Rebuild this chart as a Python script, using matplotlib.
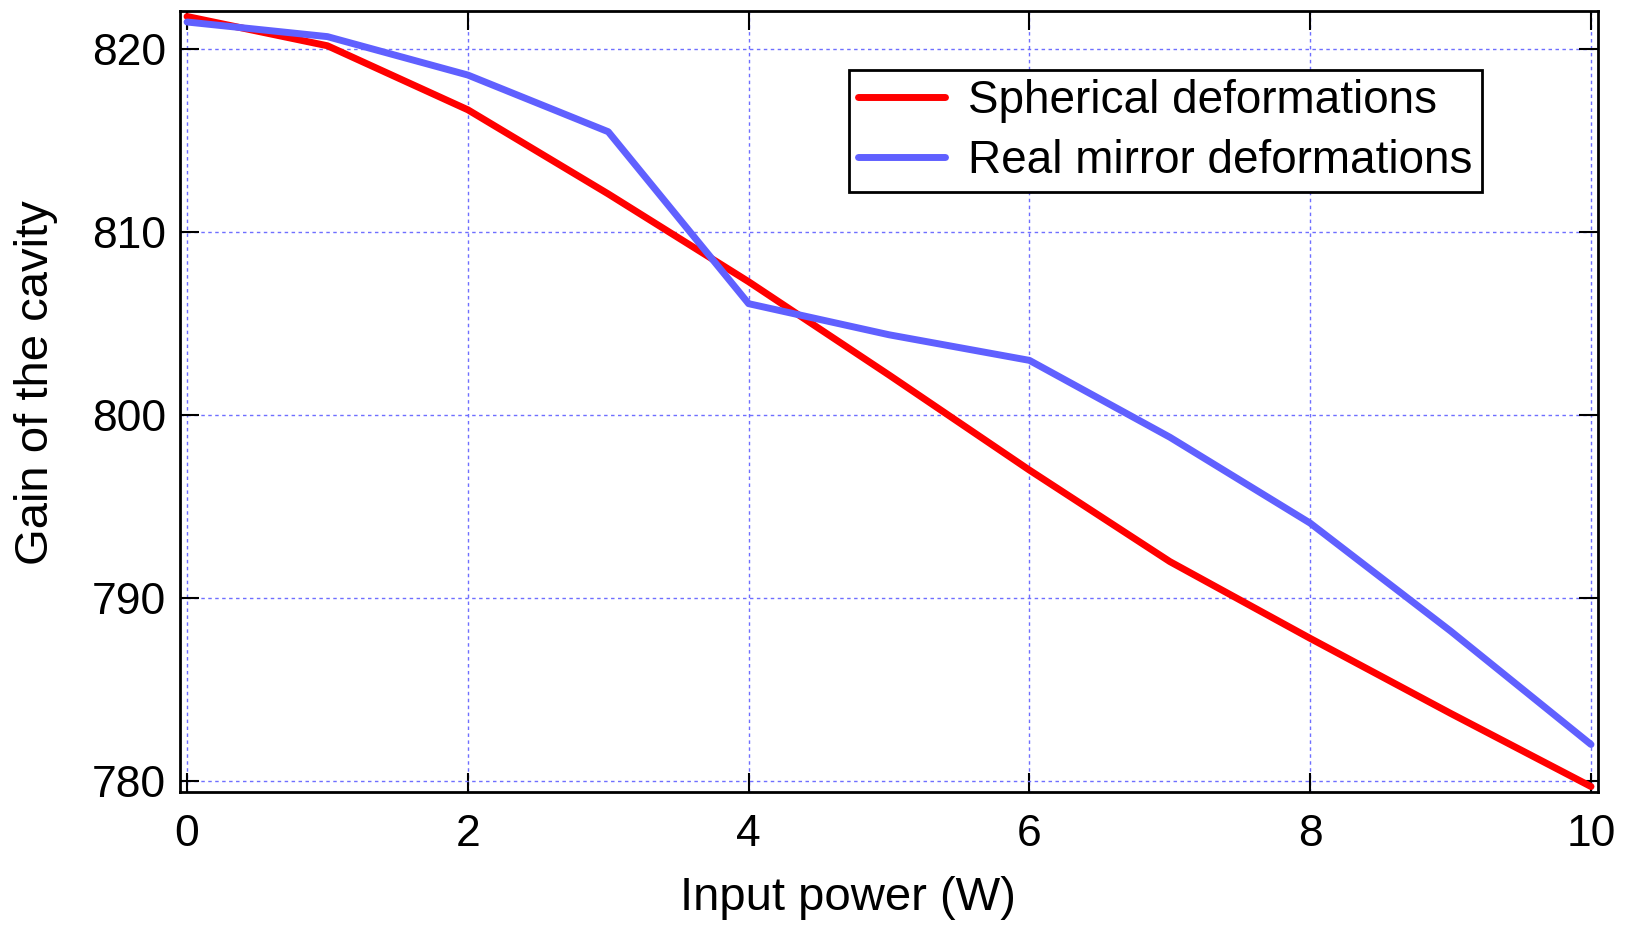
import numpy as np
import matplotlib
matplotlib.use('Agg')
from matplotlib import pyplot as plt

power = [0, 1, 2, 3, 4, 5, 6, 7, 8, 9, 10]
spherical = [821.8, 820.2, 816.7, 812.1, 807.3, 802.2, 797.0, 792.0, 787.8, 783.7, 779.7]
real_mirror = [821.5, 820.7, 818.6, 815.5, 806.1, 804.4, 803.0, 798.8, 794.1, 788.2, 782.0]
xticks = [0, 2, 4, 6, 8, 10]
yticks = [780, 790, 800, 810, 820]

plt.rcParams['font.family'] = ['Liberation Sans', 'DejaVu Sans']

fig = plt.figure(figsize=(16.25, 9.27), dpi=100)
ax = fig.add_axes([0.1108, 0.1456, 0.8726, 0.8425])
ax.plot(power, spherical, color='#ff0000', lw=5, label='Spherical deformations',
        solid_capstyle='round', zorder=3)
ax.plot(power, real_mirror, color='#6060ff', lw=5, label='Real mirror deformations',
        solid_capstyle='round', zorder=3)

ax.set_xlim(-0.05, 10.05)
ax.set_ylim(779.4, 822.1)
ax.set_xticks(xticks)
ax.set_yticks(yticks)
ax.grid(True, color='#6f6fff', linestyle=(0, (2.5, 2.5)), lw=1.0)
ax.tick_params(direction='in', length=14, width=1.5, top=True, right=True,
               labelsize=32)
ax.tick_params(axis='x', pad=16)
ax.tick_params(axis='y', pad=10)
for s in ax.spines.values():
    s.set_linewidth(2)
    s.set_color('black')

ax.set_xlabel('Input power (W)', fontsize=34)
ax.set_ylabel('Gain of the cavity', fontsize=34)
# label placed off-centre like the source figure
ax.xaxis.set_label_coords(0.471, -0.107)
ax.yaxis.set_label_coords(-0.086, 0.524)

leg = ax.legend(loc='upper right', bbox_to_anchor=(0.918, 0.9245), fontsize=33,
                frameon=True, fancybox=False, edgecolor='black', framealpha=1,
                handlelength=1.9, handletextpad=0.5, borderpad=0.2, labelspacing=0.34,
                borderaxespad=0)
leg.get_frame().set_linewidth(2)

plt.savefig('out.png', dpi=100)
